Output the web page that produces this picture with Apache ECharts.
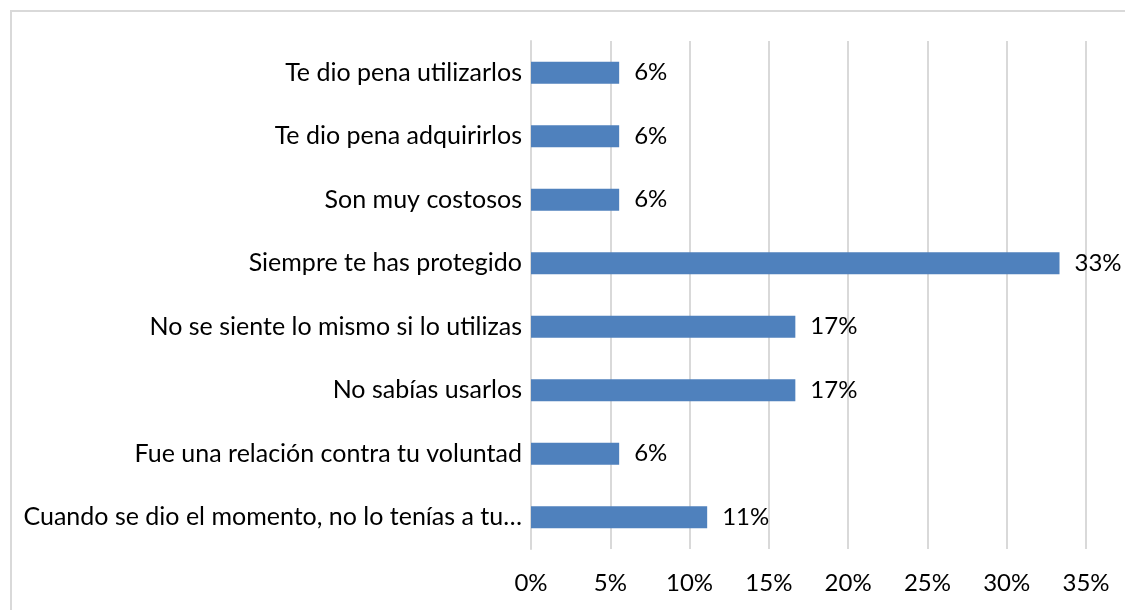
<!DOCTYPE html>
<html><head><meta charset="utf-8">
<script src="https://cdn.jsdelivr.net/npm/echarts@6/dist/echarts.min.js"></script>
<style>
html,body{margin:0;padding:0;background:#fff;overflow:hidden;}
#frame{position:absolute;left:10px;top:10px;width:1200px;height:700px;border:2px solid #d9d9d9;box-sizing:border-box;}
#chart{position:absolute;left:0;top:0;width:1125px;height:610px;}
</style></head>
<body>
<div id="frame"></div>
<div id="chart"></div>
<script>
const categories = [
  "Cuando se dio el momento, no lo tenías a tu…",
  "Fue una relación contra tu voluntad",
  "No sabías usarlos",
  "No se siente lo mismo si lo utilizas",
  "Siempre te has protegido",
  "Son muy costosos",
  "Te dio pena adquirirlos",
  "Te dio pena utilizarlos"
];
const values = [11.11, 5.56, 16.67, 16.67, 33.33, 5.56, 5.56, 5.56];
const tickLabels = ["0%","5%","10%","15%","20%","25%","30%","35%"];

const chart = echarts.init(document.getElementById('chart'));
const FONT = 'Lato';
const FS = 25;
chart.setOption({
  animation: false,
  backgroundColor: 'transparent',
  grid: {left: 531, right: 39, top: 41, bottom: 61, containLabel: false},
  xAxis: {
    type: 'value', min: 0, max: 35, interval: 5,
    axisLine: {show: false}, axisTick: {show: false},
    splitLine: {show: true, lineStyle: {color: '#d9d9d9', width: 2}},
    axisLabel: {
      formatter: v => tickLabels[Math.round(v / 5)],
      fontFamily: FONT, fontSize: 24, color: '#000', margin: 22
    }
  },
  yAxis: {
    type: 'category', data: categories,
    axisLine: {show: true, lineStyle: {color: '#d9d9d9', width: 2}},
    axisTick: {show: false},
    axisLabel: {fontFamily: FONT, fontSize: FS, color: '#000', margin: 9}
  },
  series: [{
    type: 'bar', barWidth: 22,
    itemStyle: {color: '#4f81bd'},
    data: values,
    label: {
      show: true, position: 'right', distance: 15,
      formatter: p => Math.round(p.value) + '%',
      fontFamily: FONT, fontSize: 24, color: '#000'
    }
  }]
});
</script>
</body></html>
